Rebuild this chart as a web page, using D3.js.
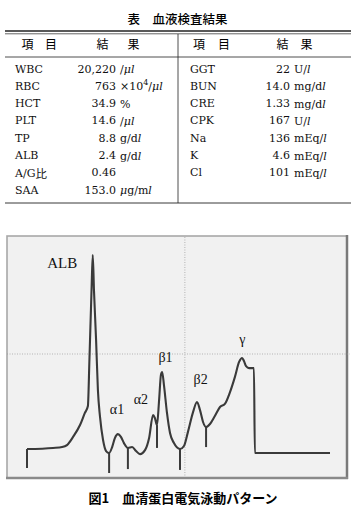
<!DOCTYPE html>
<html>
<head>
<meta charset="utf-8">
<script src="https://cdn.jsdelivr.net/npm/d3@7"></script>
<style>
  body { margin: 0; background: #fff; }
  svg { display: block; }
</style>
</head>
<body>
<div id="wide"></div>
<script>
// table data
const tableTitle = "表\u3000血液検査結果";
const headItem = ["項", "目"];
const headResult = ["結", "果"];

const leftItems = ["WBC", "RBC", "HCT", "PLT", "TP", "ALB", "A/G比", "SAA"];
const leftValues = ["20,220", "763", "34.9", "14.6", "8.8", "2.4", "0.46", "153.0"];
const leftUnits = ["/μl", "×10^4/μl", "%", "/μl", "g/dl", "g/dl", "", "μg/ml"];

const rightItems = ["GGT", "BUN", "CRE", "CPK", "Na", "K", "Cl"];
const rightValues = ["22", "14.0", "1.33", "167", "136", "4.6", "101"];
const rightUnits = ["U/l", "mg/dl", "mg/dl", "U/l", "mEq/l", "mEq/l", "mEq/l"];

// electrophoresis trace (relative mobility, relative density)
const traceX = [0, 8.6, 11.6, 13.2, 15.2, 17.5, 19.1, 20.1, 20.6, 21.3, 21.7, 22.1, 22.8, 23.4, 24.1, 25.1, 26.1, 27.1,
  28.1, 29.0, 30.0, 31.0, 32.0, 33.3, 34.7, 36.0, 37.3, 39.0, 40.3, 41.6, 42.2, 42.9, 43.6, 44.2, 44.6, 45.2, 46.2,
  47.2, 48.5, 50.5, 51.8, 53.1, 54.8, 56.1, 57.1, 58.1, 59.1, 60.4, 62.0, 63.7, 65.3, 67.0, 68.6, 70.0, 71.0, 71.6,
  72.3, 73.3, 74.6, 74.9, 75.2, 100];
const traceY = [11.8, 12.3, 12.7, 13.6, 17.3, 22.7, 28.2, 31.4, 52.3, 84.1, 100, 84.1, 61.4, 38.6, 26.4, 15.9, 10.9, 10,
  12.7, 16.8, 18.6, 17.3, 14.5, 12.3, 12.7, 10.9, 9.5, 11.4, 16.8, 27.3, 25.9, 22.7, 34.1, 45.5, 46.8, 40.9, 28.2,
  19.1, 14.5, 11.8, 13.2, 19.5, 28.6, 33.2, 29.5, 24.1, 21.8, 23.2, 26.8, 30.9, 32.3, 37.7, 44.5, 51.4, 53.2, 51.8,
  49.5, 48.6, 48.6, 48.6, 10, 10];

// fraction split marks
const tickX = [0, 27.1, 33.3, 42.9, 50.5, 59.1];
const tickLow = [3.2, 0.9, 2.7, 12.3, 2.3, 12.7];

const peakNames = ["ALB", "α1", "α2", "β1", "β2", "γ"];

const svg = d3.select("#wide")
  .append("svg")
  .attr("width", 356)
  .attr("height", 506);

// ---------- table ----------
const cjk = "'Noto Sans CJK JP', sans-serif";
const serif = "'DejaVu Serif', serif";

svg.append("text")
  .attr("x", 177.5).attr("y", 18)
  .attr("text-anchor", "middle")
  .attr("dominant-baseline", "central")
  .style("font-family", cjk).style("font-size", "12.5px").style("font-weight", 500)
  .text(tableTitle);

svg.append("line").attr("x1", 5).attr("x2", 351).attr("y1", 31).attr("y2", 31)
  .attr("stroke", "#222").attr("stroke-width", 1.4);
svg.append("line").attr("x1", 5).attr("x2", 351).attr("y1", 33.8).attr("y2", 33.8)
  .attr("stroke", "#222").attr("stroke-width", 0.7);
svg.append("line").attr("x1", 5).attr("x2", 351).attr("y1", 57).attr("y2", 57)
  .attr("stroke", "#222").attr("stroke-width", 0.8);
svg.append("line").attr("x1", 5).attr("x2", 351).attr("y1", 203).attr("y2", 203)
  .attr("stroke", "#222").attr("stroke-width", 0.9);
svg.append("line").attr("x1", 178).attr("x2", 178).attr("y1", 34).attr("y2", 203)
  .attr("stroke", "#222").attr("stroke-width", 0.8);

// header characters
const headCx = [[27.5, 51], [102.5, 133.5], [199, 224], [282.5, 306.5]];
[headItem, headResult, headItem, headResult].forEach((chars, k) => {
  chars.forEach((c, i) => {
    svg.append("text")
      .attr("x", headCx[k][i]).attr("y", 43.5)
      .attr("text-anchor", "middle")
      .attr("dominant-baseline", "central")
      .style("font-family", cjk).style("font-size", "12px")
      .text(c);
  });
});

const rowY = d3.scaleLinear().domain([0, 1]).range([69, 86.3]);

function addUnit(sel, unit) {
  // italic l and μ, one superscript digit after ^
  let dy = 0;
  let put = (str) => {
    for (const ch of str) {
      sel.append("tspan")
        .attr("dy", dy)
        .style("font-style", (ch === "l" || ch === "μ") ? "italic" : "normal")
        .text(ch);
      dy = 0;
    }
  };
  let parts = unit.split("^");
  put(parts[0]);
  if (parts.length > 1) {
    sel.append("tspan").attr("dy", -4.5).style("font-size", "8px").text(parts[1][0]);
    dy = 4.5;
    put(parts[1].slice(1));
  }
}

function drawCol(items, values, units, xl, xv, xu) {
  const g = svg.append("g")
    .style("font-family", serif).style("font-size", "11px").attr("fill", "#111");
  items.forEach((d, i) => {
    const yy = rowY(i);
    const lab = g.append("text").attr("x", xl).attr("y", yy).attr("dominant-baseline", "central");
    if (d.endsWith("比")) {
      lab.append("tspan").text(d.slice(0, -1));
      lab.append("tspan").style("font-family", cjk).style("font-size", "11.5px").text("比");
    } else {
      lab.text(d);
    }
    g.append("text").attr("x", xv).attr("y", yy).attr("text-anchor", "end")
      .attr("dominant-baseline", "central").text(values[i]);
    const u = g.append("text").attr("x", xu).attr("y", yy).attr("dominant-baseline", "central");
    addUnit(u, units[i]);
  });
}

drawCol(leftItems, leftValues, leftUnits, 15, 116, 120);
drawCol(rightItems, rightValues, rightUnits, 190, 290, 294);

// ---------- electrophoresis panel ----------
const x = d3.scaleLinear().domain([0, 100]).range([27, 330]);
const y = d3.scaleLinear().domain([0, 100]).range([475, 255]);

svg.append("rect")
  .attr("x", 7).attr("y", 236).attr("width", 340).attr("height", 242)
  .attr("fill", "#f1f1f1")
  .attr("stroke", "#a8a8a8").attr("stroke-width", 1.6);
svg.append("line").attr("x1", 347).attr("x2", 347).attr("y1", 235).attr("y2", 479)
  .attr("stroke", "#7a7a7a").attr("stroke-width", 2.5);
svg.append("line").attr("x1", 6).attr("x2", 348).attr("y1", 478).attr("y2", 478)
  .attr("stroke", "#8a8a8a").attr("stroke-width", 2.5);

// dotted crosshair
svg.append("line")
  .attr("x1", x(52.1)).attr("x2", x(52.1)).attr("y1", 237).attr("y2", 477)
  .attr("stroke", "#999").attr("stroke-width", 0.7).attr("stroke-dasharray", "1,1.5");
svg.append("line")
  .attr("x1", 7).attr("x2", 350).attr("y1", y(55)).attr("y2", y(55))
  .attr("stroke", "#999").attr("stroke-width", 0.7).attr("stroke-dasharray", "1,1.5");

const pts = traceX.map((d, i) => [d, traceY[i]]);
const line = d3.line()
  .x(d => x(d[0]))
  .y(d => y(d[1]))
  .curve(d3.curveMonotoneX);

svg.append("path")
  .datum(pts)
  .attr("d", line)
  .attr("fill", "none")
  .attr("stroke", "#3a3a3a")
  .attr("stroke-width", 2.1)
  .attr("stroke-linejoin", "round");

// fraction marks, top taken from the trace
const interp = (v) => {
  let i = d3.bisectLeft(traceX, v);
  if (i <= 0) return traceY[0];
  let a = traceX[i - 1], b = traceX[i];
  return traceY[i - 1] + (traceY[i] - traceY[i - 1]) * (v - a) / (b - a);
};
svg.append("g")
  .selectAll("line")
  .data(tickX)
  .enter().append("line")
  .attr("x1", d => x(d)).attr("x2", d => x(d))
  .attr("y1", d => y(interp(d)))
  .attr("y2", (d, i) => y(tickLow[i]))
  .attr("stroke", "#3a3a3a")
  .attr("stroke-width", 2);

// peak labels
const labelPos = [[11.6, 96.4], [29.7, 30.0], [37.6, 34.1], [45.7, 53.6], [57.3, 43.6], [71.1, 61.8]];
svg.append("g")
  .selectAll("text")
  .data(peakNames)
  .enter().append("text")
  .attr("x", (d, i) => x(labelPos[i][0]))
  .attr("y", (d, i) => y(labelPos[i][1]))
  .attr("text-anchor", "middle")
  .attr("dominant-baseline", "central")
  .style("font-family", "'Liberation Serif', serif")
  .style("font-size", (d) => d === "ALB" ? "15px" : "14px")
  .attr("fill", "#111")
  .text(d => d);

// caption
svg.append("text")
  .attr("x", 183).attr("y", 497)
  .attr("text-anchor", "middle")
  .attr("dominant-baseline", "central")
  .style("font-family", cjk).style("font-size", "13px").style("font-weight", 600)
  .text("図1\u3000血清蛋白電気泳動パターン");
</script>
</body>
</html>
